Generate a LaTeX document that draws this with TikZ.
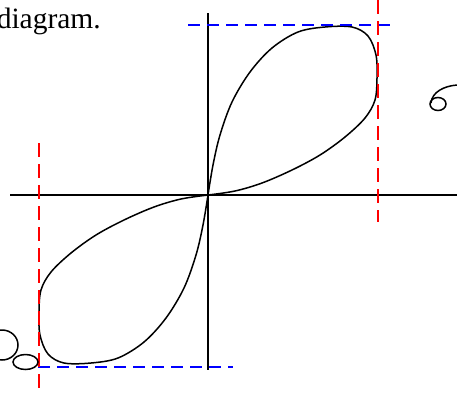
\documentclass[tikz,border=0pt]{standalone}
\usepackage{fontspec}
\setmainfont{Liberation Serif}

\begin{document}
\begin{tikzpicture}[x=1pt, y=-1pt,
    axis/.style={line width=1.6pt},
    curve/.style={line width=1.5pt},
    hbound/.style={blue, line width=2.2pt, dash pattern=on 12pt off 7pt},
    vbound/.style={red, line width=2.2pt, dash pattern=on 14pt off 7pt}]
    \useasboundingbox (0,0) rectangle (457,392);

    % Caption text, cut at the left edge
    \node[anchor=base east, inner sep=0pt, font=\fontsize{29.5}{32}\selectfont] (cap) at (101,28) {diagram.};

    % Axes
    \coordinate (O) at (208,195);
    \coordinate (xl) at (10,195);
    \coordinate (xr) at (457,195);
    \coordinate (yt) at (208,13);
    \coordinate (yb) at (208,370);
    \draw[axis] (xl) -- (xr);
    \draw[axis] (yt) -- (yb);

    % Both lobes of the curve (second one turned about the origin)
    \foreach \ang in {0,180}{
        \draw[curve, rotate around={\ang:(O)}] plot[smooth, tension=0.55] coordinates {
            (208,195) (213,165) (220,135) (232,102) (250,72) (272,48) (298,32)
            (325,27) (352,27) (368,36) (376,55) (377,78) (375,100) (365,118)
            (345,137) (320,155) (292,170) (262,183) (235,191) (208,195)};
    }

    % Bounding box lines
    \draw[hbound] (188,25) -- (397,25);
    \draw[hbound] (38,367) -- (233,367);
    \draw[vbound] (378,0) -- (378,222);
    \draw[vbound] (39,143) -- (39,392);

    % Small loops at the edges
    \draw[curve] (2,345) ellipse (16 and 15);
    \draw[curve] (25.5,362) ellipse (12.5 and 7.5);
    \draw[curve] (438,104) ellipse (8 and 6.5);
    \draw[curve] (431,103) .. controls (432,92) and (444,86) .. (457,85);
\end{tikzpicture}
\end{document}
